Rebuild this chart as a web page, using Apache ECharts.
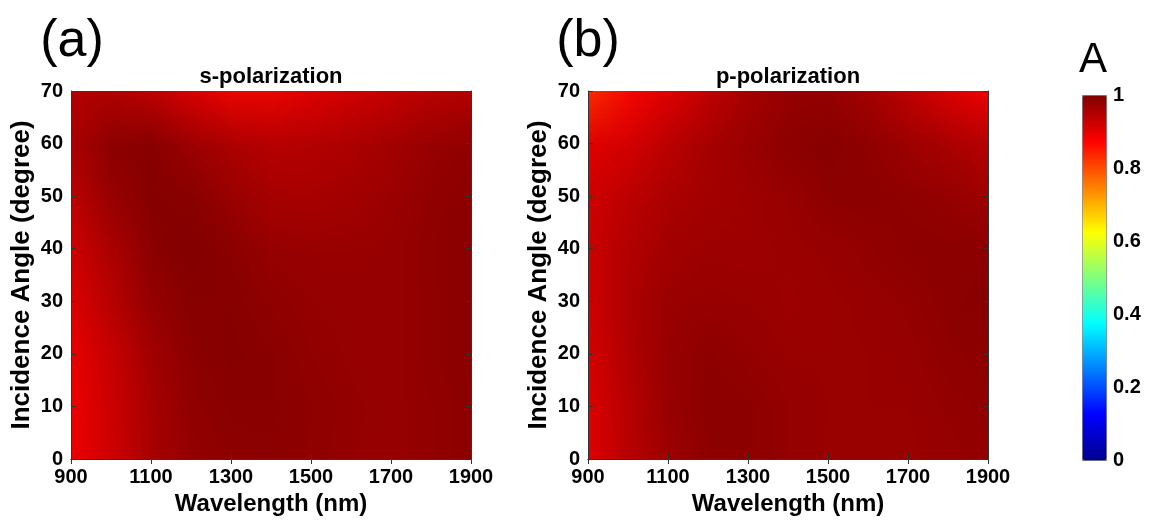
<!DOCTYPE html>
<html>
<head>
<meta charset="utf-8">
<script src="https://cdn.jsdelivr.net/npm/echarts@6.0.0/dist/echarts.min.js"></script>
<style>
  body { margin: 0; background: #fff; }
  #main { position: absolute; left: 0; top: 0; width: 1157px; height: 522px; z-index: 2; }
  .clip { position: absolute; top: 91px; width: 400px; height: 368px; overflow: hidden; z-index: 1; }
  .cells { position: absolute; transform-origin: 0 0; }
</style>
</head>
<body>
<div class="clip" style="left:71px"><div class="cells" id="mapS"></div></div>
<div class="clip" style="left:588px"><div class="cells" id="mapP"></div></div>
<div id="main"></div>
<script>
// grid nodes (nm, degree)
var wavelengths = [900, 1000, 1100, 1200, 1300, 1400, 1500, 1600, 1700, 1800, 1900];
var angles = [0, 10, 20, 30, 40, 50, 60, 70];

// absorption A, one row per angle (0 -> 70), one column per wavelength
var sPol = [
  [0.888, 0.912, 0.955, 0.978, 0.986, 0.988, 0.985, 0.980, 0.976, 0.980, 0.988],
  [0.885, 0.918, 0.960, 0.982, 0.990, 0.990, 0.984, 0.980, 0.976, 0.980, 0.988],
  [0.895, 0.925, 0.965, 0.988, 0.996, 0.990, 0.982, 0.978, 0.976, 0.982, 0.990],
  [0.905, 0.945, 0.982, 0.998, 0.990, 0.982, 0.978, 0.976, 0.976, 0.982, 0.990],
  [0.921, 0.952, 0.990, 1.000, 0.990, 0.975, 0.972, 0.973, 0.976, 0.984, 0.990],
  [0.937, 0.980, 1.000, 0.990, 0.970, 0.955, 0.953, 0.960, 0.968, 0.978, 0.988],
  [0.952, 0.990, 0.995, 0.968, 0.948, 0.943, 0.945, 0.952, 0.962, 0.972, 0.982],
  [0.948, 0.940, 0.925, 0.895, 0.865, 0.862, 0.885, 0.905, 0.918, 0.928, 0.937]
];
var pPol = [
  [0.897, 0.937, 0.968, 0.984, 0.988, 0.980, 0.974, 0.974, 0.974, 0.976, 0.982],
  [0.903, 0.945, 0.976, 0.990, 0.988, 0.980, 0.972, 0.974, 0.974, 0.978, 0.984],
  [0.909, 0.949, 0.974, 0.984, 0.978, 0.972, 0.972, 0.972, 0.976, 0.984, 0.988],
  [0.917, 0.952, 0.972, 0.976, 0.972, 0.968, 0.972, 0.976, 0.980, 0.988, 0.992],
  [0.921, 0.945, 0.964, 0.968, 0.968, 0.972, 0.976, 0.982, 0.988, 0.988, 0.985],
  [0.917, 0.933, 0.952, 0.964, 0.968, 0.976, 0.988, 0.990, 0.984, 0.976, 0.964],
  [0.897, 0.905, 0.929, 0.958, 0.975, 0.990, 0.996, 0.985, 0.968, 0.952, 0.940],
  [0.800, 0.860, 0.890, 0.920, 0.950, 0.972, 0.975, 0.962, 0.932, 0.900, 0.872]
];

var xTicks = { min: 900, max: 1900, step: 200 };
var yTicks = { min: 0, max: 70, step: 10 };
var barTicks = { min: 0, max: 1, step: 0.2 };

// matlab jet
var jet = ['#00008f', '#0000ff', '#0080ff', '#00ffff', '#80ff80', '#ffff00', '#ff8000', '#ff0000', '#800000'];

var font = '"Liberation Sans", Arial, sans-serif';
var plotW = 400, plotH = 368;

// heatmap drawn on a tiny canvas (1px per node) and scaled up by the browser,
// so the cells blend smoothly like matlab's shading interp
function drawMap(id, values) {
  var el = document.getElementById(id);
  var sx = plotW / (wavelengths.length - 1);
  var sy = plotH / (angles.length - 1);
  el.style.width = wavelengths.length + 'px';
  el.style.height = angles.length + 'px';
  el.style.left = (-sx / 2) + 'px';
  el.style.top = (-sy / 2) + 'px';
  el.style.transform = 'scale(' + sx + ',' + sy + ')';
  var chart = echarts.init(el, null, { devicePixelRatio: 1, width: wavelengths.length, height: angles.length });
  var data = [];
  for (var j = angles.length - 1; j >= 0; j--) {
    for (var i = 0; i < wavelengths.length; i++) {
      data.push([i, j, values[j][i]]);
    }
  }
  chart.setOption({
    animation: false,
    grid: { left: 0, right: 0, top: 0, bottom: 0, outerBoundsMode: 'none' },
    xAxis: { type: 'category', data: wavelengths, show: false },
    yAxis: { type: 'category', data: angles, show: false },
    visualMap: { show: false, min: 0, max: 1, inRange: { color: jet } },
    series: [{ type: 'heatmap', data: data, progressive: 0 }]
  });
}
drawMap('mapS', sPol);
drawMap('mapP', pPol);

var labelStyle = { color: '#000', fontWeight: 'bold', fontSize: 20, fontFamily: font };
var lineStyle = { color: '#333', width: 1 };

function plain(v) { return String(v); }

function xAxes(gi) {
  return [
    {
      gridIndex: gi, type: 'value', position: 'bottom',
      min: xTicks.min, max: xTicks.max, interval: xTicks.step,
      axisLine: { show: true, lineStyle: lineStyle },
      axisTick: { inside: true, length: 5, lineStyle: lineStyle },
      axisLabel: Object.assign({ margin: 8, formatter: plain }, labelStyle),
      splitLine: { show: false },
      name: 'Wavelength (nm)', nameLocation: 'middle', nameGap: 33,
      nameTextStyle: { color: '#000', fontWeight: 'bold', fontSize: 24, fontFamily: font }
    },
    {
      gridIndex: gi, type: 'value', position: 'top',
      min: xTicks.min, max: xTicks.max, interval: xTicks.step,
      axisLine: { show: true, lineStyle: lineStyle },
      axisTick: { inside: true, length: 5, lineStyle: lineStyle },
      axisLabel: { show: false }, splitLine: { show: false }
    }
  ];
}
function yAxes(gi) {
  return [
    {
      gridIndex: gi, type: 'value', position: 'left',
      min: yTicks.min, max: yTicks.max, interval: yTicks.step,
      axisLine: { show: true, lineStyle: lineStyle },
      axisTick: { inside: true, length: 5, lineStyle: lineStyle },
      axisLabel: Object.assign({ margin: 8 }, labelStyle),
      splitLine: { show: false },
      name: 'Incidence Angle (degree)', nameLocation: 'middle', nameGap: 36,
      nameTextStyle: { color: '#000', fontWeight: 'bold', fontSize: 26, fontFamily: font }
    },
    {
      gridIndex: gi, type: 'value', position: 'right',
      min: yTicks.min, max: yTicks.max, interval: yTicks.step,
      axisLine: { show: true, lineStyle: lineStyle },
      axisTick: { inside: true, length: 5, lineStyle: lineStyle },
      axisLabel: { show: false }, splitLine: { show: false }
    }
  ];
}

function label(text, x, y, size) {
  return {
    type: 'text', x: x, y: y,
    style: { text: text, font: size + ' ' + font, fill: '#000', align: 'center', verticalAlign: 'middle', textAlign: 'center', textVerticalAlign: 'middle' }
  };
}

var myChart = echarts.init(document.getElementById('main'), null, { devicePixelRatio: 1 });
var option = {
  animation: false,
  backgroundColor: 'transparent',
  grid: [
    { left: 71, top: 91, width: plotW, height: plotH, outerBoundsMode: 'none' },
    { left: 588, top: 91, width: plotW, height: plotH, outerBoundsMode: 'none' },
    { left: 1082, top: 95, width: 24, height: 365, outerBoundsMode: 'none' }
  ],
  xAxis: xAxes(0).concat(xAxes(1)).concat([{ gridIndex: 2, type: 'value', show: false }]),
  yAxis: yAxes(0).concat(yAxes(1)).concat([{
    gridIndex: 2, type: 'value', position: 'right',
    min: barTicks.min, max: barTicks.max, interval: barTicks.step,
    axisLine: { show: false },
    axisTick: { show: false },
    axisLabel: Object.assign({ margin: 7 }, labelStyle),
    splitLine: { show: false }
  }]),
  visualMap: {
    type: 'continuous', min: 0, max: 1, calculable: false,
    left: 1082, top: 95, itemWidth: 24, itemHeight: 365, padding: 0,
    borderColor: '#777', borderWidth: 1,
    inRange: { color: jet }
  },
  graphic: [
    label('(a)', 72, 42, '52px'),
    label('(b)', 588, 42, '52px'),
    label('A', 1093, 60, '42px'),
    label('s-polarization', 271, 77, 'bold 22px'),
    label('p-polarization', 788, 77, 'bold 22px')
  ],
  series: []
};
myChart.setOption(option);
</script>
</body>
</html>
